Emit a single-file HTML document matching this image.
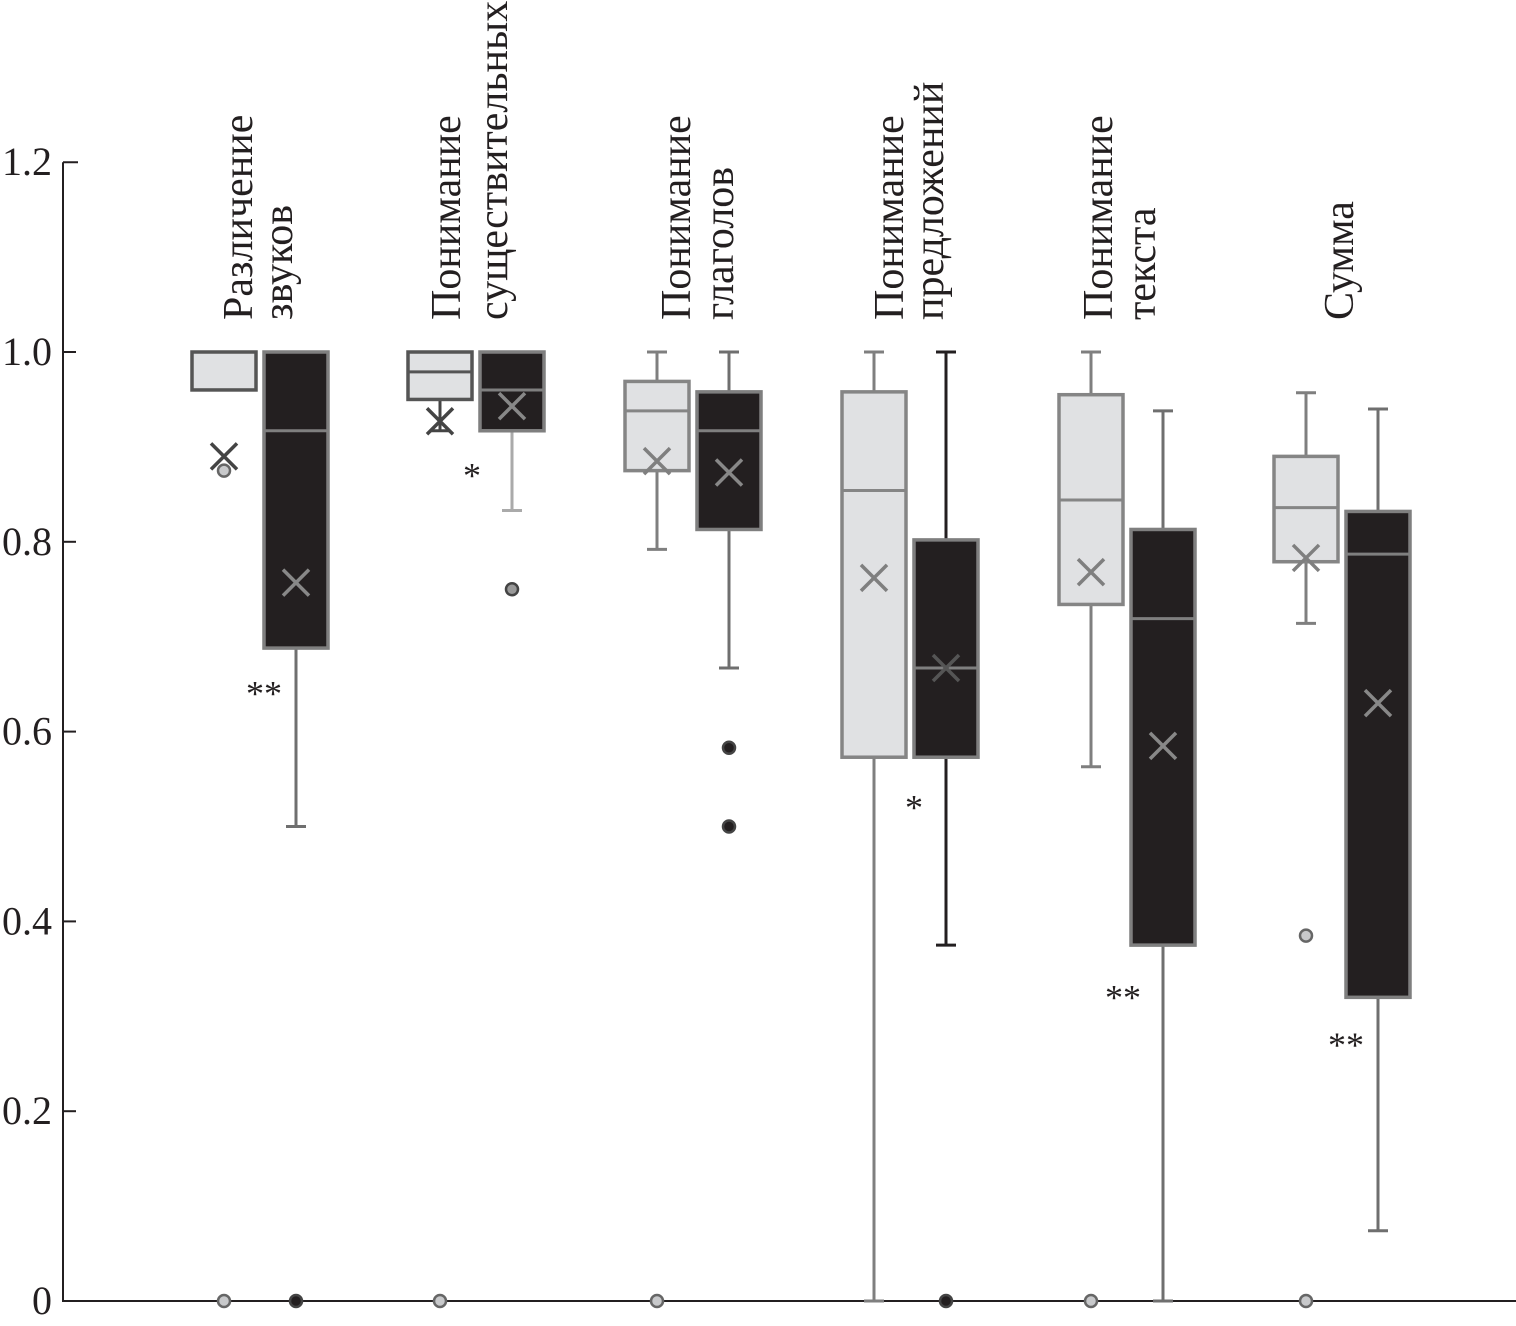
<!DOCTYPE html>
<html><head><meta charset="utf-8"><style>html,body{margin:0;padding:0;background:#fff;width:1516px;height:1326px;overflow:hidden}</style></head>
<body>
<svg id="chart" width="1516" height="1326" xmlns="http://www.w3.org/2000/svg" font-family="'Liberation Serif', serif"></svg>
<script>
const categories = [["Различение","звуков"],["Понимание","существительных"],["Понимание","глаголов"],["Понимание","предложений"],["Понимание","текста"],["Сумма"]];
const lightQ3 = [1.0,1.0,0.969,0.958,0.955,0.89];
const lightMed = [0.96,0.979,0.938,0.854,0.844,0.836];
const lightQ1 = [0.96,0.95,0.875,0.573,0.734,0.779];
const lightMin = [0.96,0.917,0.792,0.0,0.563,0.714];
const lightMax = [1.0,1.0,1.0,1.0,1.0,0.957];
const lightMean = [0.89,0.927,0.885,0.762,0.768,0.783];
const lightOut = [[0.875,0],[0],[0],[],[0],[0.385,0]];
const darkQ3 = [1.0,1.0,0.958,0.802,0.813,0.832];
const darkMed = [0.917,0.96,0.917,0.667,0.719,0.787];
const darkQ1 = [0.688,0.917,0.813,0.573,0.375,0.32];
const darkMin = [0.5,0.833,0.667,0.375,0.0,0.074];
const darkMax = [1.0,1.0,1.0,1.0,0.938,0.94];
const darkMean = [0.757,0.943,0.873,0.667,0.585,0.63];
const darkOut = [[0],[0.75],[0.583,0.5],[0],[],[]];
const signif = ["**","*","","*","**","**"];
const signifVal = [0.64,0.87,0,0.52,0.32,0.27];
const signifSide = [0,1,0,0,1,0];
const yTicks = [0,0.2,0.4,0.6,0.8,1.0,1.2];
const yTickLabels = ["0","0.2","0.4","0.6","0.8","1.0","1.2"];

const NS="http://www.w3.org/2000/svg";
const svg=document.getElementById('chart');
const y=v=>1301-v*949;
const groupX=i=>[260,476,693,910,1127,1342][i];
function mk(tag,attrs,parent){const e=document.createElementNS(NS,tag);for(const k in attrs)e.setAttribute(k,attrs[k]);(parent||svg).appendChild(e);return e;}

const ax=mk('path',{d:`M63 ${y(1.2)} H78 M63 ${y(1.2)} V1301 H1516`,stroke:'#231f20','stroke-width':2,fill:'none'});


yTicks.forEach((t,i)=>{
  if(i>0&&i<yTicks.length-1){const tk=mk('line',{x1:63,x2:76,y1:y(t),y2:y(t),stroke:'#231f20','stroke-width':2});
  
  }
  const tl=mk('text',{x:52,y:y(t)+13,'text-anchor':'end','font-size':40,fill:'#231f20'});
  tl.textContent=yTickLabels[i];
  
  
});

const labelX=[[252,292],[460,507],[690,733],[903,943],[1112,1155],[1353]];
function drawBox(i,cx,q3,med,q1,mn,mx,mean,outs,dark){
  const g=mk('g',{});
  
  
  const stroke=dark?'#7f7f7f':(i<2?'#555':'#858585');
  const wcol=dark?(i==3?'#231f20':'#6f6f6f'):(i==1?'#444':'#7f7f7f');
  const wcol2=(dark&&i==1)?'#aaa':wcol;
  if(mx>q3){mk('line',{x1:cx,x2:cx,y1:y(mx),y2:y(q3),stroke:wcol,'stroke-width':3},g);mk('line',{x1:cx-10,x2:cx+10,y1:y(mx),y2:y(mx),stroke:wcol,'stroke-width':3},g);}
  if(mn<q1){mk('line',{x1:cx,x2:cx,y1:y(q1),y2:y(mn),stroke:wcol2,'stroke-width':3},g);mk('line',{x1:cx-10,x2:cx+10,y1:y(mn),y2:y(mn),stroke:wcol2,'stroke-width':3},g);}
  mk('rect',{x:cx-32,y:y(q3),width:64,height:Math.max(y(q1)-y(q3),1),fill:dark?'#231f20':'#e0e1e3',stroke:stroke,'stroke-width':3.5},g);
  mk('line',{x1:cx-32,x2:cx+32,y1:y(med),y2:y(med),stroke:stroke,'stroke-width':3},g);
  const mc=dark?(i==3?'#555':'#888'):(i<2?'#444':'#7f7f7f');
  mk('path',{d:`M${cx-13} ${y(mean)-13} L${cx+13} ${y(mean)+13} M${cx+13} ${y(mean)-13} L${cx-13} ${y(mean)+13}`,stroke:mc,'stroke-width':3.5},g);
  outs.forEach(o=>{
    const grayDark=dark&&i==1;
    mk('circle',{cx:cx,cy:y(o),r:6,fill:dark&&!grayDark?'#231f20':(grayDark?'#999':'#c8c9cb'),stroke:dark?'#444':'#666','stroke-width':2.5},g);
  });
}
categories.forEach((c,i)=>{
  const gx=groupX(i);
  c.forEach((line,j)=>{
    const t=mk('text',{transform:`translate(${labelX[i][j]},320) rotate(-90)`,'font-size':42,fill:'#231f20'});
    t.textContent=line;
    
    
  });
  drawBox(i,gx-36,lightQ3[i],lightMed[i],lightQ1[i],lightMin[i],lightMax[i],lightMean[i],lightOut[i],false);
  drawBox(i,gx+36,darkQ3[i],darkMed[i],darkQ1[i],darkMin[i],darkMax[i],darkMean[i],darkOut[i],true);
  if(signif[i]){
    const s=mk('text',{x:gx+(signifSide[i]?-4:4),y:y(signifVal[i])+12,'text-anchor':'middle','font-size':36,fill:'#231f20'});
    s.textContent=signif[i];
    
    
  }
});
</script>
</body></html>
